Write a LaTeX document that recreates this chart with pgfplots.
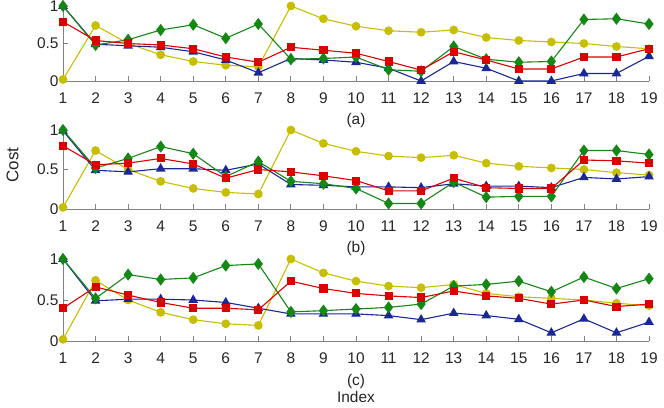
\documentclass[border=0pt]{standalone}
\usepackage{fontspec}
\setmainfont{Liberation Sans}
\usepackage{pgfplots}
\usepackage{pgfplotstable}
\pgfplotsset{compat=1.18}
\definecolor{cy}{RGB}{200,190,0}
\definecolor{cg}{RGB}{20,135,20}
\definecolor{cr}{RGB}{220,0,0}
\definecolor{cb}{RGB}{25,40,150}
\definecolor{axisgray}{RGB}{130,130,130}
\definecolor{labelgray}{RGB}{38,38,38}

\pgfplotstableread{
x Y G R B
1 0.02 1.00 0.79 1.00
2 0.74 0.48 0.54 0.49
3 0.50 0.55 0.50 0.47
4 0.35 0.68 0.48 0.45
5 0.26 0.75 0.43 0.39
6 0.21 0.57 0.32 0.28
7 0.19 0.76 0.25 0.11
8 1.00 0.29 0.45 0.30
9 0.83 0.30 0.41 0.28
10 0.73 0.32 0.37 0.25
11 0.67 0.15 0.26 0.17
12 0.65 0.13 0.145 0.00
13 0.68 0.46 0.39 0.26
14 0.58 0.29 0.28 0.17
15 0.54 0.25 0.16 0.00
16 0.52 0.26 0.16 0.00
17 0.50 0.82 0.32 0.10
18 0.46 0.83 0.32 0.10
19 0.43 0.76 0.43 0.33
}\tabA

\pgfplotstableread{
x Y G R B
1 0.02 1.00 0.80 0.99
2 0.74 0.52 0.56 0.49
3 0.50 0.64 0.58 0.47
4 0.35 0.79 0.64 0.51
5 0.26 0.70 0.57 0.51
6 0.21 0.41 0.39 0.49
7 0.19 0.60 0.50 0.57
8 1.00 0.35 0.47 0.31
9 0.83 0.32 0.42 0.30
10 0.73 0.26 0.36 0.28
11 0.67 0.07 0.23 0.28
12 0.65 0.07 0.23 0.27
13 0.68 0.34 0.39 0.32
14 0.58 0.15 0.27 0.29
15 0.54 0.16 0.26 0.29
16 0.52 0.16 0.26 0.27
17 0.50 0.74 0.62 0.40
18 0.46 0.74 0.61 0.38
19 0.43 0.69 0.58 0.41
}\tabB

\pgfplotstableread{
x Y G R B
1 0.02 1.00 0.40 1.00
2 0.74 0.52 0.66 0.49
3 0.50 0.81 0.56 0.51
4 0.35 0.75 0.47 0.51
5 0.26 0.77 0.40 0.50
6 0.21 0.92 0.40 0.47
7 0.19 0.94 0.38 0.40
8 1.00 0.355 0.73 0.33
9 0.83 0.37 0.64 0.33
10 0.73 0.39 0.58 0.33
11 0.67 0.41 0.55 0.31
12 0.65 0.45 0.53 0.26
13 0.69 0.67 0.61 0.34
14 0.58 0.69 0.55 0.31
15 0.54 0.73 0.52 0.265
16 0.52 0.60 0.45 0.10
17 0.50 0.78 0.50 0.27
18 0.46 0.64 0.42 0.10
19 0.43 0.76 0.45 0.23
}\tabC

\pgfplotsset{
  panel/.style={
    scale only axis, width=586bp,
    xmin=1, xmax=19, ymin=0, ymax=1, clip=false,
    axis x line*=bottom, axis y line*=left,
    axis line style={draw=axisgray, line width=0.8bp, -},
    xtick={1,...,19}, ytick={0,0.5,1}, yticklabels={0,0.5,1},
    tick align=inside, major tick length=5bp,
    tick style={draw=axisgray, line width=0.8bp},
    /pgf/number format/assume math mode=true,
    ticklabel style={font=\fontsize{15.5}{17}\selectfont, text=labelgray},
    xticklabel style={anchor=base, yshift=-22.5bp},
    yticklabel style={anchor=east, xshift=-1bp},
    xlabel style={at={(axis description cs:0.5,0)}, anchor=center, yshift=-40bp,
      font=\fontsize{15.5}{17.5}\selectfont, text=labelgray, align=center},
    ylabel style={font=\fontsize{17}{19}\selectfont, text=labelgray},
    every axis plot/.append style={line width=1.1bp},
  },
  sy/.style={color=cy, mark=*, mark size=3.8bp, mark options={fill=cy, draw=cy, solid}},
  sb/.style={color=cb, mark=triangle*, mark size=4.5bp, mark options={fill=cb, draw=cb, solid}},
  sg/.style={color=cg, mark=diamond*, mark size=5.2bp, mark options={fill=cg, draw=cg, solid}},
  sr/.style={color=cr, mark=square*, mark size=3.5bp, mark options={fill=cr, draw=cr, solid}},
}

\begin{document}
\begin{tikzpicture}[x=1bp,y=1bp]
\useasboundingbox (0,0) rectangle (664,407);

\begin{axis}[panel, height=75bp, at={(63bp,326bp)}, anchor=south west, xlabel={(a)}]
\addplot[sy] table[x=x,y=Y]{\tabA};
\addplot[sb] table[x=x,y=B]{\tabA};
\addplot[sg] table[x=x,y=G]{\tabA};
\addplot[sr] table[x=x,y=R]{\tabA};
\end{axis}

\begin{axis}[panel, height=79bp, at={(63bp,198bp)}, anchor=south west, xlabel={(b)},
  ylabel={Cost}, ylabel style={at={(axis description cs:-0.0862,0.557)}, anchor=center}]
\addplot[sy] table[x=x,y=Y]{\tabB};
\addplot[sb] table[x=x,y=B]{\tabB};
\addplot[sg] table[x=x,y=G]{\tabB};
\addplot[sr] table[x=x,y=R]{\tabB};
\end{axis}

\begin{axis}[panel, height=82bp, at={(63bp,66bp)}, anchor=south west, xlabel={(c)\\Index},
  xlabel style={yshift=-7.5bp}]
\addplot[sy] table[x=x,y=Y]{\tabC};
\addplot[sb] table[x=x,y=B]{\tabC};
\addplot[sg] table[x=x,y=G]{\tabC};
\addplot[sr] table[x=x,y=R]{\tabC};
\end{axis}
\end{tikzpicture}
\end{document}
